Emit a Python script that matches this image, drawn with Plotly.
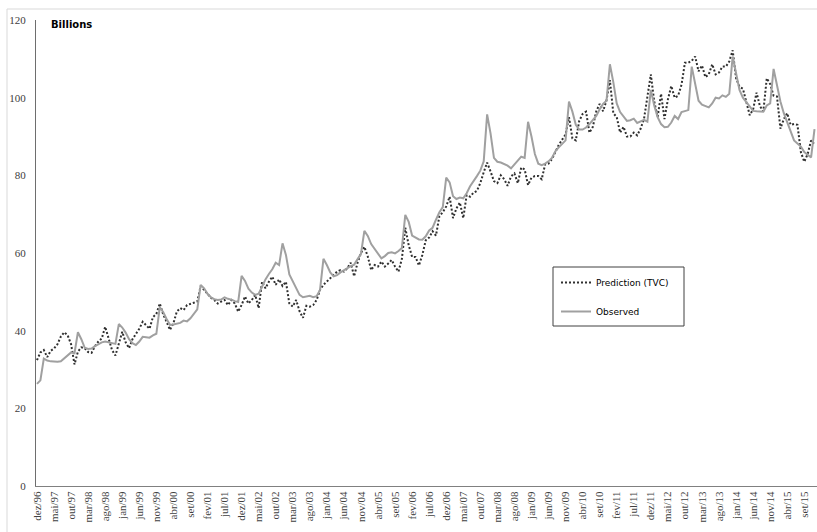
import plotly.graph_objects as go

MONTHS = ["jan", "fev", "mar", "abr", "mai", "jun", "jul", "ago", "set", "out", "nov", "dez"]

# monthly categories dez/96 .. dez/15
categories = ["dez/96"] + [f"{m}/{y % 100:02d}" for y in range(1997, 2016) for m in MONTHS]

observed = [
    26.3, 27.2, 32.8, 32.3, 32.1, 32.0, 32.0, 32.1, 32.8, 33.6, 34.4, 34.2, 39.6,
    37.8, 35.6, 35.3, 35.4, 36.0, 36.5, 37.0, 37.2, 37.0, 36.8, 36.6, 41.7,
    40.8, 39.5, 37.8, 36.8, 36.3, 37.2, 38.4, 38.3, 38.2, 38.8, 39.2, 46.0,
    44.8, 43.0, 41.5, 41.6, 41.8, 42.0, 42.6, 42.4, 43.2, 44.5, 45.5, 51.8,
    50.9, 49.5, 48.6, 48.1, 47.9, 48.0, 48.6, 48.2, 48.0, 47.6, 47.4, 54.1,
    52.8, 50.8, 49.8, 49.2, 49.5, 51.3, 53.2, 54.6, 55.8, 57.5, 56.9, 62.5,
    59.5, 54.5, 52.8, 51.0, 49.2, 48.6, 48.8, 49.0, 48.6, 48.9, 50.5, 58.5,
    56.9, 55.0, 54.0, 54.3, 55.0, 55.6, 56.0, 56.6, 57.0, 58.5, 59.8, 65.7,
    64.4, 62.3, 61.0, 59.8, 58.6, 59.2, 60.0, 60.2, 59.9, 60.5, 61.3, 69.8,
    68.0, 64.5, 63.9, 63.5, 63.4, 64.3, 65.8, 66.5, 68.6, 70.5, 71.8, 79.4,
    78.2, 74.6, 73.9, 74.3, 74.1, 75.4, 77.2, 78.4, 79.8, 81.2, 83.6, 95.7,
    90.8, 84.5, 83.5, 83.3, 83.0, 82.5, 81.8, 82.8, 84.0, 84.8, 84.5, 93.8,
    90.0, 85.5, 83.0, 82.6, 83.0, 83.6, 84.5, 86.2, 87.2, 88.0, 89.0, 99.0,
    96.4, 93.0, 91.8, 91.8, 92.3, 93.2, 94.3, 95.3, 97.0, 98.4, 99.2, 108.6,
    104.0, 98.5, 96.3, 95.0, 94.0, 94.2, 94.6, 93.5, 93.9, 94.3, 93.8, 102.0,
    98.0, 95.0, 93.2, 92.4, 92.5, 93.6, 95.3, 94.5, 96.3, 96.6, 96.8, 108.0,
    103.3, 99.2, 98.2, 97.8, 97.5, 98.5, 100.0, 99.8, 100.6, 100.2, 101.0, 110.6,
    106.0, 102.0, 100.0, 98.8, 97.7, 96.6, 96.5, 96.4, 96.4, 98.0, 98.5, 107.4,
    103.0, 99.0, 96.0, 93.5, 91.0, 89.0, 88.2, 87.4, 86.0, 85.2, 84.6, 91.9,
]

prediction = [
    32.4, 34.4, 35.0, 33.2, 34.8, 35.4, 36.5, 38.5, 39.6, 38.8, 36.5, 31.3, 34.6,
    35.7, 35.5, 34.5, 34.3, 36.0, 37.2, 38.0, 41.0, 38.2, 35.0, 33.6, 37.0,
    39.7, 37.0, 35.5, 37.8, 39.0, 40.5, 42.3, 41.3, 40.5, 43.5, 44.3, 47.0,
    44.2, 42.3, 40.2, 41.9, 44.9, 45.8, 45.3, 46.6, 47.0, 47.2, 47.5, 51.5,
    50.5, 49.6, 48.5, 47.9, 47.0, 47.5, 47.9, 46.6, 47.9, 47.0, 44.9, 46.6,
    48.8, 47.0, 47.9, 49.2, 45.8, 52.6, 50.9, 52.6, 53.9, 51.8, 53.2, 51.5,
    52.6, 47.0, 46.2, 47.9, 45.0, 43.3, 46.4, 46.2, 46.6, 47.9, 50.5, 51.8,
    52.6, 53.5, 54.3, 55.2, 55.6, 55.2, 56.1, 57.5, 54.0, 57.5, 60.0, 61.6,
    59.1, 55.6, 56.9, 56.5, 57.8, 56.5, 57.3, 58.2, 56.5, 55.2, 58.5, 66.5,
    62.0, 59.0, 59.0, 56.8, 59.5, 63.3, 64.0, 65.6, 64.5, 69.5, 70.5, 72.0,
    74.5, 69.0, 71.5, 73.0, 69.0, 74.9, 74.5, 75.5, 76.0, 78.0, 80.8, 83.3,
    81.0, 78.5, 78.0, 80.0, 79.0, 77.3, 79.7, 80.5, 78.0, 82.0, 81.5, 77.5,
    79.4, 79.8, 79.8, 79.0, 82.8, 83.0, 84.2, 86.1, 87.8, 89.2, 90.5, 95.0,
    89.5, 89.0, 94.0, 95.8, 96.4, 91.0, 92.5, 96.5, 98.4, 96.5, 99.3, 104.5,
    96.0, 95.0, 91.0, 92.5, 90.0, 90.0, 91.0, 90.3, 92.0, 94.5, 100.5, 106.0,
    99.0, 95.0, 101.0, 94.5, 99.5, 103.0, 100.0, 100.5, 103.3, 109.0, 109.0, 109.5,
    110.6, 106.8, 108.3, 105.3, 106.0, 108.6, 106.0, 106.5, 108.0, 108.0, 109.3, 112.2,
    105.0, 102.8, 102.3, 99.0, 95.5, 97.0, 101.3, 97.8, 96.5, 105.0, 103.5, 100.5,
    100.3, 92.0, 94.5, 96.0, 93.0, 93.2, 93.0, 86.0, 83.5, 85.5, 89.0, 88.0,
]

tick_labels = categories[::5]
y_ticks = [0, 20, 40, 60, 80, 100, 120]

fig = go.Figure()
fig.add_trace(go.Scatter(
    x=categories, y=prediction, mode="lines", name="Prediction (TVC)",
    legendgroup="p", line=dict(color="#303030", width=2, dash="2px,2px"),
))
fig.add_trace(go.Scatter(
    x=categories, y=observed, mode="lines", name="Observed",
    legendgroup="o", line=dict(color="#a0a0a0", width=2),
))

W, H = 817, 532
L, R, T, B = 36, 0, 20, 46
pw, ph = W - L - R, H - T - B

def px(x):
    return (x - L) / pw

def py(y):
    return (H - B - y) / ph

tick_font = dict(family="Liberation Serif, Times New Roman, serif", size=11, color="#404040")

fig.update_layout(
    width=W, height=H,
    margin=dict(l=L, r=R, t=T, b=B),
    paper_bgcolor="white", plot_bgcolor="white",
    showlegend=True,
    legend=dict(
        x=px(556), y=py(268), xanchor="left", yanchor="top",
        bgcolor="rgba(0,0,0,0)", borderwidth=0,
        font=dict(family="DejaVu Sans, Verdana, sans-serif", size=9, color="#000000"),
        tracegroupgap=10, itemwidth=30,
    ),
    xaxis=dict(
        type="category", range=[-0.29, 228.73],
        tickmode="array", tickvals=tick_labels, ticktext=tick_labels,
        tickangle=-90, ticks="", showgrid=False, zeroline=False,
        showline=True, linecolor="#808080", linewidth=1,
        tickfont=tick_font, automargin=False,
    ),
    yaxis=dict(
        range=[0, 120], tickmode="array", tickvals=y_ticks,
        ticks="", showgrid=False, zeroline=False,
        showline=True, linecolor="#6e6e6e", linewidth=1,
        tickfont=tick_font, ticklabelstandoff=7, automargin=False,
    ),
    shapes=[
        # chart area border (top and left edges visible)
        dict(type="line", xref="paper", yref="paper", x0=px(7), x1=px(817), y0=py(9), y1=py(9),
             line=dict(color="#d9d9d9", width=1)),
        dict(type="line", xref="paper", yref="paper", x0=px(7), x1=px(7), y0=py(9), y1=py(532),
             line=dict(color="#d9d9d9", width=1)),
        # legend box
        dict(type="rect", xref="paper", yref="paper", x0=px(553), x1=px(684), y0=py(267), y1=py(326),
             line=dict(color="#404040", width=1), fillcolor="white", layer="below"),
    ],
    annotations=[
        dict(text="<b>Billions</b>", xref="paper", yref="paper", x=px(49), y=py(25),
             xanchor="left", yanchor="middle", showarrow=False,
             font=dict(family="DejaVu Sans, Verdana, sans-serif", size=10, color="#000000")),
    ],
)

fig.write_html(
    "out.html",
    config={"displayModeBar": False},
    post_script="document.body.style.margin='0';document.body.style.overflow='hidden';",
)
